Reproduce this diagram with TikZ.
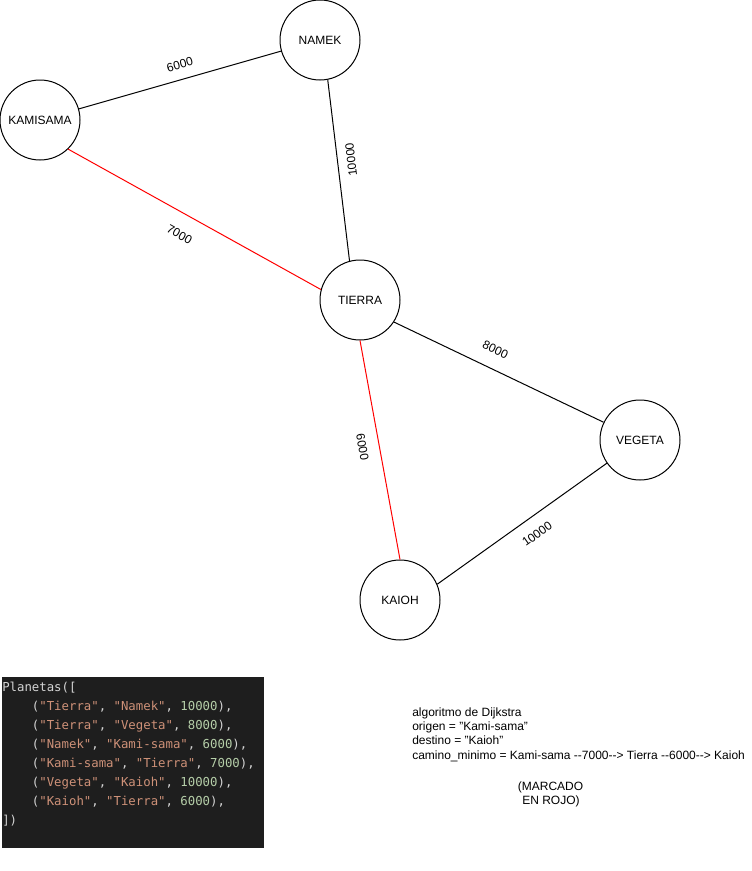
\documentclass[tikz,border=0pt]{standalone}
\usepackage{fontspec}
\setmainfont{Liberation Sans}
\newfontfamily\codefont{DejaVu Sans Mono}
\usetikzlibrary{positioning}

\definecolor{codebg}{HTML}{1E1E1E}
\definecolor{codetxt}{HTML}{D4D4D4}
\definecolor{codestr}{HTML}{CE9178}
\definecolor{codenum}{HTML}{B5CEA8}
\newcommand{\cstr}[1]{\textcolor{codestr}{"#1"}}
\newcommand{\cnum}[1]{\textcolor{codenum}{#1}}

\begin{document}
\begin{tikzpicture}[x=0.75pt, y=-0.75pt,
    planet/.style={draw, circle, minimum size=60pt, inner sep=0pt, line width=0.75pt, font=\fontsize{9}{11}\selectfont},
    road/.style={line width=0.75pt},
    shortest/.style={road, red},
    weight/.style={sloped, inner sep=0pt, text=black, font=\fontsize{9}{11}\selectfont},
    codeline/.style={anchor=base west, inner sep=0pt, text=codetxt, font=\codefont\fontsize{9.25}{11}\selectfont},
    notes/.style={inner sep=0pt, font=\fontsize{9}{11}\selectfont}]
            \useasboundingbox (0,0) rectangle (751,871);

            % planets
            \node[planet] (NAMEK) at (320,40) {NAMEK};
            \node[planet] (KAMISAMA) at (40,120) {KAMISAMA};
            \node[planet] (TIERRA) at (360,300) {TIERRA};
            \node[planet] (VEGETA) at (640,440) {VEGETA};
            \node[planet] (KAIOH) at (400,600) {KAIOH};

            % roads
            \draw[road] (KAMISAMA) -- node[weight, pos=.52, above=7.7pt] {6000} (NAMEK);
            \draw[road] (TIERRA.105) -- node[weight, allow upside down, pos=.55, below=6.7pt] {10000} (NAMEK.-79);
            \draw[road] (TIERRA.-33) -- node[weight, pos=.445, above=10.6pt] {8000} (VEGETA.154);
            \draw[road] (KAIOH.23) -- node[weight, pos=.53, below=9.2pt] {10000} (VEGETA.215);
            % camino minimo, en rojo
            \draw[shortest] (KAMISAMA.-46) -- node[weight, pos=.48, below=11.9pt] {7000} (TIERRA.165);
            \draw[shortest] (TIERRA.south) -- (KAIOH.north);
            \node[weight, rotate=-79.7] (w6000) at (362.5,447) {6000};

            % code box
            \fill[codebg] (2,677) rectangle (264,848);
            \node[codeline] (code0) at (2,691) {Planetas([};
            \node[codeline] (code1) at (31.7,710) {(\cstr{Tierra}, \cstr{Namek}, \cnum{10000}),};
            \node[codeline] (code2) at (31.7,729) {(\cstr{Tierra}, \cstr{Vegeta}, \cnum{8000}),};
            \node[codeline] (code3) at (31.7,748) {(\cstr{Namek}, \cstr{Kami-sama}, \cnum{6000}),};
            \node[codeline] (code4) at (31.7,767) {(\cstr{Kami-sama}, \cstr{Tierra}, \cnum{7000}),};
            \node[codeline] (code5) at (31.7,786) {(\cstr{Vegeta}, \cstr{Kaioh}, \cnum{10000}),};
            \node[codeline] (code6) at (31.7,805) {(\cstr{Kaioh}, \cstr{Tierra}, \cnum{6000}),};
            \node[codeline] (code7) at (2,824) {])};

            % notes
            \node[notes, anchor=base west] (dijkstra) at (412,716) {algoritmo de Dijkstra};
            \node[notes, anchor=base west] (origen) at (412,730.4) {origen = "Kami-sama"};
            \node[notes, anchor=base west] (destino) at (412,744.8) {destino = "Kaioh"};
            \node[notes, anchor=base west] (camino) at (412,759.2) {camino\_minimo = Kami-sama -{}-7000-{}-> Tierra -{}-6000-{}-> Kaioh};
            \node[notes, anchor=base] (marcado) at (550.5,790) {(MARCADO};
            \node[notes, anchor=base] (rojo) at (551,804) {EN ROJO)};
     \end{tikzpicture}
\end{document}
